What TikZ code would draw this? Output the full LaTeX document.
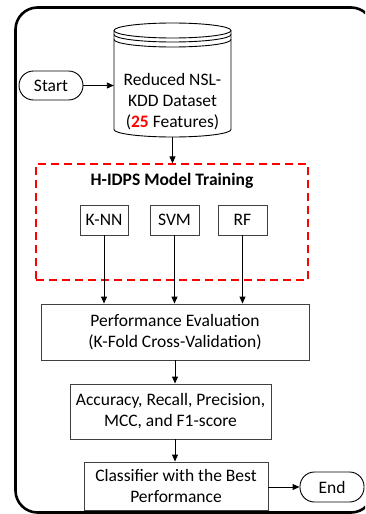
\documentclass[tikz,border=0pt]{standalone}
\usepackage{fontspec}
\setmainfont{Carlito}
\usetikzlibrary{arrows.meta,calc}
\definecolor{boxgray}{HTML}{404040}
\begin{document}
\begin{tikzpicture}[x=1pt,y=-1pt,
  txt/.style={font=\fontsize{17.5}{21}\selectfont, align=center},
  procbox/.style={draw=boxgray, line width=0.9pt, fill=white, txt, inner sep=0pt},
  pill/.style={draw=black, line width=0.9pt, rounded corners=14.5pt, txt, inner sep=0pt},
  arr/.style={-{Triangle[length=7pt,width=6pt]}, line width=0.9pt, black},
]
\path[use as bounding box, clip] (0,0) rectangle (365,514);
% outer frame
\draw[line width=2.6pt, rounded corners=22pt] (15.5,7.5) rectangle (373,512.5);

% cylinder
\filldraw[fill=white, draw=black, line width=0.9pt]
  (114,30.5) -- (114,129.5) arc[start angle=180, end angle=360, x radius=58.5, y radius=-7.5]
  -- (231,30.5) arc[start angle=0, end angle=180, x radius=58.5, y radius=-7.5] -- cycle;
\draw[line width=0.9pt] (231,30.5) arc[start angle=0, end angle=-180, x radius=58.5, y radius=-7.5];
\draw[line width=0.9pt] (231,34.5) arc[start angle=0, end angle=-180, x radius=58.5, y radius=-7.5];
\draw[line width=0.9pt] (231,39.5) arc[start angle=0, end angle=-180, x radius=58.5, y radius=-7.5];
\node[minimum width=117pt, minimum height=114pt, inner sep=0pt] (db) at (172.5,80) {};
\node[txt] (dbtext) at (172.5,101.5) {Reduced NSL-\\KDD Dataset\\(\textcolor{red}{\textbf{25}} Features)};

\node[pill, minimum width=64pt, minimum height=29pt] (start) at (51,85.5) {Start};

% dashed training box
\node[draw=red, line width=1.3pt, dash pattern=on 8pt off 5pt, minimum width=272pt, minimum height=116pt, inner sep=0pt] (train) at (172,222) {};
\node[txt, font=\fontsize{17.5}{21}\selectfont\bfseries] (title) at (172,181) {H-IDPS Model Training};

\node[procbox, minimum width=48pt, minimum height=30pt] (knn) at (104,220) {K-NN};
\node[procbox, minimum width=49pt, minimum height=30pt] (svm) at (174.5,220) {SVM};
\node[procbox, minimum width=49pt, minimum height=30pt] (rf) at (242.5,220) {RF};

\node[procbox, minimum width=268pt, minimum height=56pt] (perf) at (175,332) {Performance Evaluation\\(K-Fold Cross-Validation)};
\node[procbox, minimum width=201pt, minimum height=55pt] (acc) at (170.5,411.5) {Accuracy, Recall, Precision,\\MCC, and F1-score};
\node[procbox, minimum width=184pt, minimum height=48pt] (cls) at (176,486) {Classifier with the Best\\Performance};
\node[pill, minimum width=64pt, minimum height=30pt] (end) at (332,487) {End};

% connectors
\draw[arr] (start.east) -- (start.east -| db.west);
\draw[arr] (db.south) -- (db.south |- train.north);
\draw[arr] (knn.south) -- (knn.south |- perf.north);
\draw[arr] (svm.south) -- (svm.south |- perf.north);
\draw[arr] (rf.south) -- (rf.south |- perf.north);
\draw[arr] (perf.south) -- (perf.south |- acc.north);
\draw[arr] (acc.south -| perf.south) -- (cls.north -| perf.south);
\draw[arr] (cls.east |- end.west) -- (end.west);
\end{tikzpicture}
\end{document}
